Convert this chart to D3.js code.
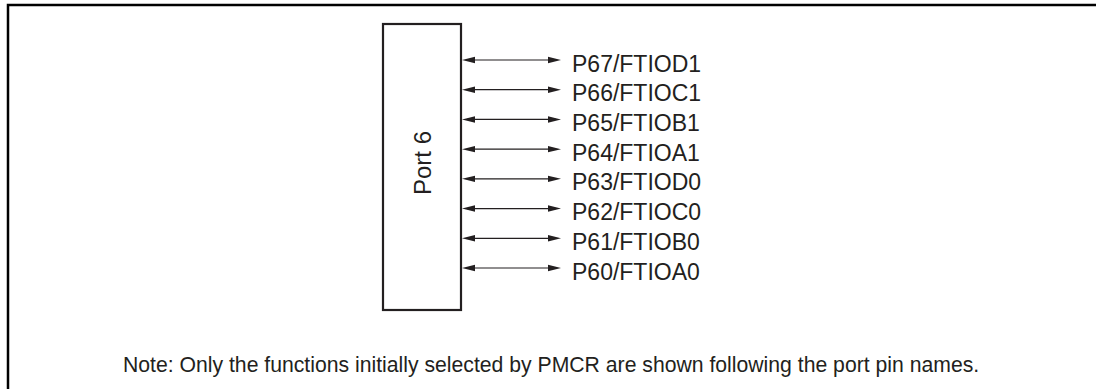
<!DOCTYPE html>
<html><head><meta charset="utf-8">
<script src="https://cdn.jsdelivr.net/npm/d3@7"></script>
<style>body{margin:0;background:#fff;}svg{display:block;}</style>
</head><body>
<script>
const pins = ["P67/FTIOD1","P66/FTIOC1","P65/FTIOB1","P64/FTIOA1","P63/FTIOD0","P62/FTIOC0","P61/FTIOB0","P60/FTIOA0"];
const portLabel = "Port 6";
const note = "Note: Only the functions initially selected by PMCR are shown following the port pin names.";

const W = 1096, H = 389, ink = "#231f20";
const font = "'Liberation Sans', Arial, sans-serif";
const svg = d3.select("body").append("svg").attr("width", W).attr("height", H);

// outer frame
svg.append("path").attr("d", "M8,400 V5 H1100").attr("fill","none").attr("stroke","#000").attr("stroke-width",2.5);

const y = d3.scalePoint().domain(pins).range([60, 268]);
const x0 = 462, x1 = 561, aL = 13, aW = 3.2;

// port box
svg.append("rect").attr("x", 383).attr("y", 24).attr("width", 78).attr("height", 286)
  .attr("fill","#fff").attr("stroke", ink).attr("stroke-width", 2.2);
svg.append("text").attr("transform","translate(422,163) rotate(-90)")
  .attr("text-anchor","middle").attr("dominant-baseline","central")
  .attr("font-family",font).attr("font-size",24).attr("fill",ink)
  .text(portLabel);

const g = svg.append("g");
g.selectAll("line").data(pins).join("line")
  .attr("x1", x0 + 5).attr("x2", x1 - 5).attr("y1", d => y(d)).attr("y2", d => y(d))
  .attr("stroke", ink).attr("stroke-width", 1.2);
g.selectAll("path.l").data(pins).join("path").attr("class","l")
  .attr("d", d => `M${x0},${y(d)} L${x0+aL},${y(d)-aW} L${x0+aL},${y(d)+aW} Z`).attr("fill", ink);
g.selectAll("path.r").data(pins).join("path").attr("class","r")
  .attr("d", d => `M${x1},${y(d)} L${x1-aL},${y(d)-aW} L${x1-aL},${y(d)+aW} Z`).attr("fill", ink);
g.selectAll("text").data(pins).join("text")
  .attr("x", 572).attr("y", d => y(d) + 3.5).attr("dominant-baseline","central")
  .attr("font-family",font).attr("font-size",23).attr("fill",ink)
  .text(d => d);

svg.append("text").attr("x", 123).attr("y", 364).attr("dominant-baseline","central")
  .attr("font-family",font).attr("font-size",21.2).attr("fill",ink)
  .text(note);
</script>
</body></html>
